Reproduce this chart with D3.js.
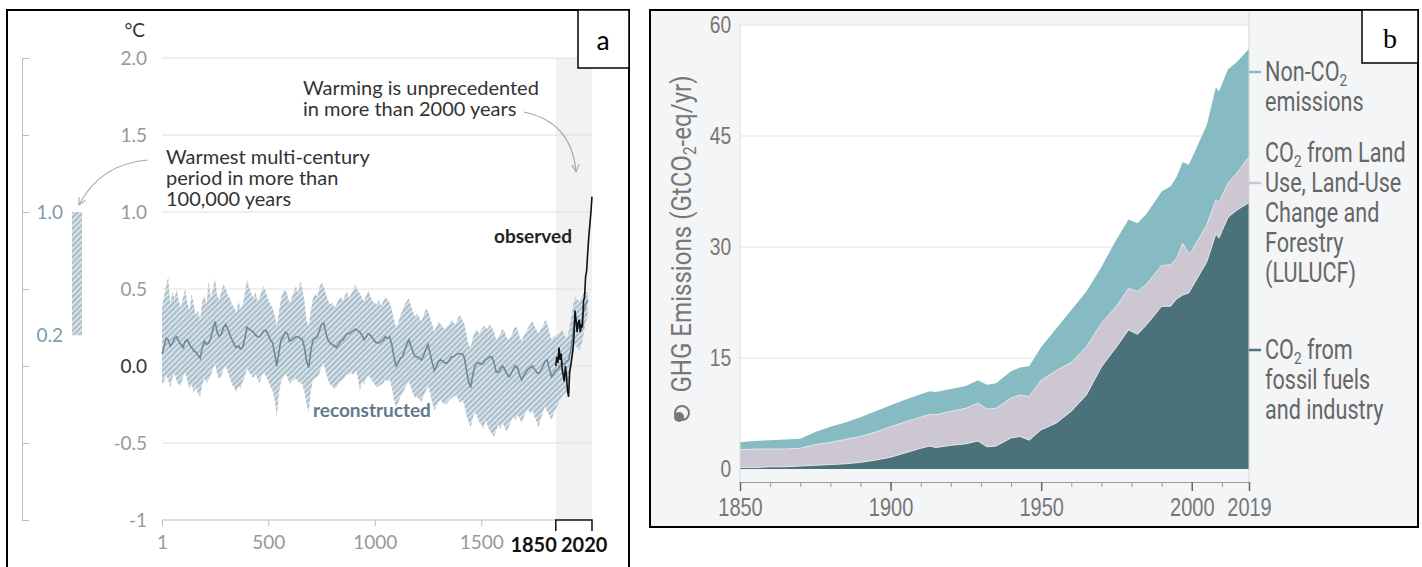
<!DOCTYPE html>
<html>
<head>
<meta charset="utf-8">
<script src="https://cdn.jsdelivr.net/npm/d3@7"></script>
<style>
  body { margin: 0; background: #fff; }
</style>
</head>
<body>
<div id="chart"></div>
<script>
// ---- panel a: global surface temperature (reconstructed + observed) ----
var recYears = d3.range(0, 2010, 10).map(d => Math.max(d, 1));
var recMean = [0.08,0.12,0.18,0.17,0.13,0.15,0.18,0.19,0.16,0.14,
  0.12,0.16,0.17,0.14,0.12,0.10,0.09,0.07,0.05,0.12,
  0.16,0.14,0.15,0.18,0.24,0.29,0.22,0.19,0.21,0.25,
  0.27,0.24,0.20,0.17,0.14,0.12,0.13,0.11,0.12,0.18,
  0.25,0.24,0.23,0.22,0.20,0.19,0.19,0.21,0.23,0.23,
  0.20,0.17,0.15,0.08,0.00,0.09,0.17,0.19,0.22,0.21,
  0.16,0.17,0.18,0.19,0.19,0.18,0.17,0.12,0.03,-0.01,
  0.10,0.17,0.18,0.19,0.23,0.27,0.28,0.22,0.17,0.15,
  0.14,0.13,0.12,0.14,0.16,0.17,0.19,0.21,0.21,0.22,
  0.23,0.24,0.23,0.22,0.20,0.17,0.19,0.21,0.20,0.18,
  0.16,0.15,0.15,0.16,0.17,0.19,0.18,0.19,0.14,0.06,
  0.00,0.02,0.05,0.06,0.10,0.14,0.17,0.13,0.09,0.06,
  0.06,0.05,0.04,0.07,0.11,0.14,0.08,0.02,-0.03,0.00,
  0.03,0.04,0.03,0.02,0.02,0.04,0.06,0.06,0.07,0.08,
  0.08,0.08,0.06,-0.02,-0.10,-0.14,-0.06,0.00,0.02,0.02,
  0.01,0.02,0.04,0.05,0.06,0.06,0.02,-0.04,-0.04,-0.02,
  0.00,-0.02,-0.05,-0.07,-0.05,-0.02,0.00,-0.01,-0.06,-0.09,
  -0.06,-0.04,-0.02,-0.01,0.00,-0.02,-0.04,-0.05,-0.03,0.00,
  0.03,0.04,-0.02,-0.07,-0.05,-0.03,-0.02,0.00,0.02,0.01,
  0.03,0.04,0.10,0.20,0.30,0.27,0.25,0.28,0.35,0.40,
  0.43];
var recHigh = [0.38,0.45,0.52,0.58,0.40,0.48,0.44,0.50,0.42,0.38,
  0.45,0.50,0.41,0.36,0.47,0.40,0.33,0.36,0.30,0.42,
  0.46,0.40,0.55,0.44,0.50,0.57,0.46,0.43,0.49,0.53,
  0.50,0.46,0.44,0.40,0.38,0.35,0.42,0.37,0.40,0.47,
  0.56,0.51,0.47,0.44,0.48,0.42,0.45,0.49,0.52,0.47,
  0.43,0.40,0.38,0.33,0.26,0.35,0.44,0.48,0.50,0.46,
  0.41,0.44,0.48,0.52,0.47,0.55,0.50,0.42,0.30,0.26,
  0.36,0.44,0.47,0.45,0.51,0.54,0.52,0.47,0.43,0.40,
  0.41,0.38,0.40,0.43,0.45,0.42,0.46,0.48,0.44,0.47,
  0.50,0.53,0.49,0.47,0.44,0.42,0.46,0.49,0.45,0.42,
  0.41,0.40,0.43,0.39,0.42,0.45,0.43,0.41,0.37,0.30,
  0.25,0.28,0.33,0.36,0.40,0.42,0.44,0.39,0.35,0.32,
  0.34,0.31,0.29,0.33,0.37,0.36,0.31,0.27,0.22,0.26,
  0.29,0.27,0.25,0.24,0.26,0.27,0.30,0.28,0.27,0.31,
  0.33,0.30,0.28,0.21,0.14,0.12,0.18,0.22,0.24,0.21,
  0.23,0.26,0.25,0.24,0.27,0.25,0.22,0.17,0.19,0.21,
  0.24,0.22,0.18,0.17,0.19,0.23,0.26,0.24,0.19,0.16,
  0.20,0.22,0.25,0.27,0.29,0.26,0.23,0.21,0.24,0.26,
  0.30,0.28,0.22,0.17,0.19,0.20,0.21,0.22,0.24,0.20,
  0.18,0.22,0.30,0.38,0.45,0.43,0.42,0.44,0.47,0.48,
  0.48];
var recLow = [-0.12,-0.10,-0.06,-0.09,-0.14,-0.08,-0.05,-0.10,-0.12,-0.13,
  -0.07,-0.04,-0.10,-0.15,-0.12,-0.17,-0.14,-0.18,-0.20,-0.12,
  -0.08,-0.11,-0.09,-0.06,-0.02,0.02,-0.05,-0.09,-0.06,-0.02,
  0.00,-0.04,-0.08,-0.12,-0.14,-0.17,-0.13,-0.15,-0.10,-0.07,
  -0.02,-0.04,-0.06,-0.08,-0.05,-0.09,-0.11,-0.06,-0.04,-0.07,
  -0.10,-0.13,-0.16,-0.22,-0.33,-0.18,-0.10,-0.08,-0.05,-0.07,
  -0.12,-0.10,-0.09,-0.08,-0.10,-0.11,-0.12,-0.17,-0.25,-0.30,
  -0.16,-0.09,-0.08,-0.07,-0.05,0.00,0.02,-0.04,-0.09,-0.12,
  -0.13,-0.15,-0.14,-0.11,-0.10,-0.09,-0.07,-0.05,-0.06,-0.04,
  -0.06,-0.03,-0.07,-0.16,-0.10,-0.12,-0.08,-0.06,-0.08,-0.10,
  -0.12,-0.14,-0.13,-0.12,-0.11,-0.09,-0.10,-0.09,-0.14,-0.22,
  -0.27,-0.24,-0.20,-0.18,-0.15,-0.12,-0.10,-0.14,-0.18,-0.21,
  -0.20,-0.22,-0.23,-0.19,-0.16,-0.13,-0.18,-0.24,-0.29,-0.26,
  -0.23,-0.22,-0.24,-0.25,-0.24,-0.22,-0.21,-0.20,-0.19,-0.21,
  -0.24,-0.22,-0.25,-0.32,-0.36,-0.40,-0.34,-0.30,-0.33,-0.36,
  -0.38,-0.41,-0.35,-0.39,-0.42,-0.44,-0.46,-0.42,-0.38,-0.41,
  -0.37,-0.40,-0.43,-0.39,-0.36,-0.33,-0.35,-0.32,-0.34,-0.37,
  -0.33,-0.30,-0.28,-0.31,-0.29,-0.33,-0.36,-0.40,-0.34,-0.30,
  -0.26,-0.30,-0.32,-0.35,-0.31,-0.28,-0.25,-0.22,-0.20,-0.18,
  -0.17,-0.12,-0.02,0.08,0.14,0.12,0.10,0.13,0.20,0.28,
  0.32];
var obsYears = d3.range(1850, 2021, 5);
var obsTemp = [0.00,0.06,0.02,0.12,0.04,0.08,-0.02,-0.06,-0.10,0.00,
  -0.06,-0.16,-0.20,-0.04,0.00,0.05,0.10,0.18,0.36,0.30,
  0.22,0.28,0.30,0.22,0.27,0.25,0.42,0.45,0.58,0.62,
  0.74,0.84,0.92,1.00,1.10];
var aTempTicks = [-1, -0.5, 0, 0.5, 1, 1.5, 2];
var aYearTicks = [1, 500, 1000, 1500];
var aYearBold = [1850, 2020];
var warmestRange = [0.2, 1.0];

// ---- panel b: GHG emissions 1850-2019 ----
var bYears = [1850,1855,1860,1865,1870,1875,1880,1885,1890,1895,1900,1905,1910,1913,1915,1920,1925,1929,1932,1935,
  1940,1943,1946,1950,1955,1960,1965,1970,1975,1979,1982,1985,1990,1993,1995,1997,1999,2000,2005,2008,
  2009,2012,2015,2019];
var fossil = [0.2,0.2,0.3,0.3,0.4,0.5,0.6,0.7,0.9,1.2,1.6,2.2,2.8,3.1,2.9,3.2,3.4,3.8,3.0,3.1,
  4.2,4.4,3.9,5.3,6.2,7.8,10.0,13.8,16.5,18.8,18.2,19.5,22.0,22.0,23.0,23.5,23.8,24.5,28.0,31.8,
  31.2,34.0,35.0,36.0];
var lulucf = [2.4,2.5,2.4,2.4,2.4,2.8,3.0,3.3,3.5,3.8,4.1,4.2,4.2,4.3,4.4,4.6,4.8,5.1,5.1,5.1,
  5.4,5.6,5.9,6.7,7.1,6.6,6.5,5.9,5.5,5.6,5.8,5.5,5.5,5.6,5.5,7.0,5.3,5.0,5.0,4.6,
  4.8,4.6,5.0,6.2];
var nonCO2 = [1.0,1.1,1.2,1.3,1.3,1.7,2.1,2.3,2.6,2.8,2.9,3.0,3.1,3.1,3.1,3.0,3.0,3.1,3.3,3.4,
  3.6,3.7,4.1,4.5,5.7,7.1,7.5,7.6,9.0,9.3,9.2,9.5,10.0,10.6,11.0,11.0,12.0,12.5,13.5,15.2,
  15.0,15.4,15.0,14.6];
var bKeys = ["fossil", "lulucf", "nonco2"];
var bColors = ["#4b717a", "#cdc6d3", "#86bbc3"];
var bValueTicks = [0, 15, 30, 45, 60];
var bMajorYears = [1850, 1900, 1950, 2000, 2019];
var bMinorYears = d3.range(1850, 2020, 10);
var bLegend = [
  {key: "nonco2", lines: [["Non-CO", "2", ""], ["emissions"]], anchor: 0},
  {key: "lulucf", lines: [["CO", "2", " from Land"], ["Use, Land-Use"], ["Change and"], ["Forestry"], ["(LULUCF)"]], anchor: 1},
  {key: "fossil", lines: [["CO", "2", " from"], ["fossil fuels"], ["and industry"]], anchor: 0}
];

var svg = d3.select("#chart").append("svg")
  .attr("width", 1422)
  .attr("height", 567);

var defs = svg.append("defs");
var hatch = defs.append("pattern")
  .attr("id", "hatch")
  .attr("patternUnits", "userSpaceOnUse")
  .attr("width", 4).attr("height", 4)
  .attr("patternTransform", "rotate(45)");
hatch.append("rect").attr("width", 4).attr("height", 4).attr("fill", "#d8e2e9");
hatch.append("line").attr("x1", 1).attr("y1", 0).attr("x2", 1).attr("y2", 4)
  .attr("stroke", "#9db3c2").attr("stroke-width", 1.6);

defs.append("marker")
  .attr("id", "arrowGray")
  .attr("viewBox", "0 0 10 10")
  .attr("refX", 9).attr("refY", 5)
  .attr("markerWidth", 9).attr("markerHeight", 9)
  .attr("markerUnits", "userSpaceOnUse")
  .attr("orient", "auto")
  .append("path")
  .attr("d", "M1,1 L9,5 L1,9")
  .attr("fill", "none")
  .attr("stroke", "#aaa")
  .attr("stroke-width", 1.2);

var fmtTemp = d => d === -1 ? "-1" : d3.format(".1f")(d).replace("−", "-");

// ================= PANEL A =================
var xA = d3.scaleLinear().domain([1, 2020]).range([162, 592]);
var yA = d3.scaleLinear().domain([-1, 2]).range([520, 58]);
var gA = svg.append("g").attr("font-family", "Lato, 'Open Sans', sans-serif");

// shaded instrumental period
gA.append("rect")
  .attr("x", xA(1850)).attr("y", yA(2))
  .attr("width", xA(2020) - xA(1850))
  .attr("height", yA(-1) - yA(2))
  .attr("fill", "#f2f2f2");

// gridlines
gA.selectAll(".gridA")
  .data(aTempTicks.filter(d => d > -1))
  .join("line")
  .attr("x1", xA(1)).attr("x2", xA(2020))
  .attr("y1", d => yA(d)).attr("y2", d => yA(d))
  .attr("stroke", "#e0e0e0").attr("stroke-width", 1);

// y labels
gA.selectAll(".ylabA")
  .data(aTempTicks)
  .join("text")
  .attr("x", 147)
  .attr("y", d => yA(d))
  .attr("dy", "0.35em")
  .attr("text-anchor", "end")
  .attr("font-size", 19)
  .attr("fill", d => d === 0 ? "#333" : "#999")
  .text(fmtTemp);

gA.append("text")
  .attr("x", 145).attr("y", 30).attr("dy", "0.35em")
  .attr("text-anchor", "end")
  .attr("font-size", 19).attr("fill", "#333")
  .text("°C");

// left reference scale with the warmest period bar
var leftAxis = gA.append("g")
  .attr("transform", "translate(22,0)")
  .call(d3.axisRight(yA).tickValues(aTempTicks).tickSize(7).tickSizeOuter(0).tickFormat(""));
leftAxis.select(".domain").attr("stroke", "#bbb");
leftAxis.selectAll(".tick line").attr("stroke", "#bbb");

gA.append("rect")
  .attr("x", 72).attr("width", 10)
  .attr("y", yA(warmestRange[1]))
  .attr("height", yA(warmestRange[0]) - yA(warmestRange[1]))
  .attr("fill", "url(#hatch)");

gA.selectAll(".rangeLab")
  .data(warmestRange)
  .join("text")
  .attr("x", 63).attr("y", d => yA(d)).attr("dy", "0.35em")
  .attr("text-anchor", "end")
  .attr("font-size", 19).attr("fill", "#7f9aab")
  .text(fmtTemp);

// x axis
var xAxisA = gA.append("g")
  .attr("transform", `translate(0,${yA(-1)})`)
  .call(d3.axisBottom(xA).tickValues(aYearTicks).tickSize(6).tickSizeOuter(0).tickPadding(10).tickFormat(d3.format("d")));
xAxisA.select(".domain").attr("stroke", "#bbb").attr("d", `M${xA(1)},0H${xA(1850)}`);
xAxisA.selectAll(".tick line").attr("stroke", "#bbb");
xAxisA.selectAll(".tick text").attr("font-size", 19).attr("fill", "#999").attr("font-family", "Lato, sans-serif");

// bracket for 1850-2020
gA.append("path")
  .attr("d", `M${xA(1850)},${yA(-1) + 11}V${yA(-1)}H${xA(2020)}V${yA(-1) + 11}`)
  .attr("fill", "none").attr("stroke", "#111").attr("stroke-width", 1.5);
gA.selectAll(".boldYear")
  .data(aYearBold)
  .join("text")
  .attr("x", (d, i) => i === 0 ? xA(d) + 1 : xA(d) - 31)
  .attr("y", yA(-1) + 25).attr("dy", "0.35em")
  .attr("font-size", 20).attr("font-weight", "bold").attr("fill", "#111")
  .attr("text-anchor", (d, i) => i === 0 ? "end" : "start")
  .text(d => d);

// reconstructed band + mean
var idx = d3.range(recYears.length);
gA.append("path")
  .datum(idx)
  .attr("fill", "url(#hatch)")
  .attr("d", d3.area()
    .x(i => xA(recYears[i]))
    .y0(i => yA(recLow[i]))
    .y1(i => yA(recHigh[i])));

gA.append("path")
  .datum(idx)
  .attr("fill", "none")
  .attr("stroke", "#6d8897")
  .attr("stroke-width", 1.6)
  .attr("d", d3.line()
    .x(i => xA(recYears[i]))
    .y(i => yA(recMean[i])));

// observed
gA.append("path")
  .datum(d3.range(obsYears.length))
  .attr("fill", "none")
  .attr("stroke", "#111")
  .attr("stroke-width", 1.6)
  .attr("d", d3.line()
    .x(i => xA(obsYears[i]))
    .y(i => yA(obsTemp[i])));

gA.append("text")
  .attr("x", 572).attr("y", 236).attr("dy", "0.35em")
  .attr("text-anchor", "end")
  .attr("font-size", 19).attr("font-weight", "bold").attr("fill", "#222")
  .text("observed");

gA.append("text")
  .attr("x", 313).attr("y", 410).attr("dy", "0.35em")
  .attr("font-size", 19).attr("font-weight", "bold").attr("fill", "#5f7a88")
  .text("reconstructed");

// annotations
var noteWarmest = ["Warmest multi-century", "period in more than", "100,000 years"];
gA.selectAll(".noteW")
  .data(noteWarmest)
  .join("text")
  .attr("x", 166).attr("y", (d, i) => 157 + i * 21).attr("dy", "0.35em")
  .attr("font-size", 20).attr("fill", "#333")
  .text(d => d);

var noteUnprec = ["Warming is unprecedented", "in more than 2000 years"];
gA.selectAll(".noteU")
  .data(noteUnprec)
  .join("text")
  .attr("x", 303).attr("y", (d, i) => 88 + i * 21).attr("dy", "0.35em")
  .attr("font-size", 20).attr("fill", "#333")
  .text(d => d);

gA.append("path")
  .attr("d", "M148,160 Q100,164 79,205")
  .attr("fill", "none").attr("stroke", "#aaa").attr("stroke-width", 1.2)
  .attr("marker-end", "url(#arrowGray)");
gA.append("path")
  .attr("d", "M524,112 Q572,122 576,172")
  .attr("fill", "none").attr("stroke", "#aaa").attr("stroke-width", 1.2)
  .attr("marker-end", "url(#arrowGray)");

// frame + label
gA.append("rect")
  .attr("x", 7).attr("y", 10).attr("width", 622).attr("height", 580)
  .attr("fill", "none").attr("stroke", "#000").attr("stroke-width", 2);
gA.append("rect")
  .attr("x", 578).attr("y", 10).attr("width", 51).attr("height", 58)
  .attr("fill", "#fff").attr("stroke", "#000").attr("stroke-width", 1.5);
gA.append("text")
  .attr("x", 603).attr("y", 40).attr("dy", "0.35em")
  .attr("text-anchor", "middle")
  .attr("font-family", "Carlito, 'Liberation Sans', sans-serif")
  .attr("font-size", 28).attr("fill", "#000")
  .text("a");

// ================= PANEL B =================
// the original uses a condensed face; squeeze Roboto horizontally instead
var squeeze = "scale(0.8,1)";
var xB = d3.scaleLinear().domain([1850, 2019]).range([740, 1249]);
var yB = d3.scaleLinear().domain([0, 60]).range([469, 25]);
var gB = svg.append("g").attr("font-family", "Roboto, 'Open Sans', sans-serif");

gB.append("rect")
  .attr("x", 650).attr("y", 10).attr("width", 768).attr("height", 517)
  .attr("fill", "#f4f5f7");
gB.append("rect")
  .attr("x", xB(1850)).attr("y", yB(60))
  .attr("width", xB(2019) - xB(1850)).attr("height", yB(0) - yB(60))
  .attr("fill", "#fff");

gB.selectAll(".gridB")
  .data(bValueTicks.filter(d => d > 0))
  .join("line")
  .attr("x1", xB(1850)).attr("x2", xB(2019))
  .attr("y1", d => yB(d)).attr("y2", d => yB(d))
  .attr("stroke", "#ececec").attr("stroke-width", 1.5);

// stacked areas
var rows = bYears.map((y, i) => ({year: y, fossil: fossil[i], lulucf: lulucf[i], nonco2: nonCO2[i]}));
var stacked = d3.stack().keys(bKeys)(rows);

gB.selectAll(".layer")
  .data(stacked)
  .join("path")
  .attr("fill", (d, i) => bColors[i])
  .attr("d", d3.area()
    .x(d => xB(d.data.year))
    .y0(d => yB(d[0]))
    .y1(d => yB(d[1])));

gB.selectAll(".layerEdge")
  .data(stacked.slice(0, 2))
  .join("path")
  .attr("fill", "none")
  .attr("stroke", "#e6e3ea").attr("stroke-width", 1)
  .attr("d", d3.line()
    .x(d => xB(d.data.year))
    .y(d => yB(d[1])));

// plot borders
gB.append("line")
  .attr("x1", xB(1850)).attr("x2", xB(1850))
  .attr("y1", yB(60)).attr("y2", 482)
  .attr("stroke", "#dcdcdc");
gB.append("line")
  .attr("x1", xB(2019)).attr("x2", xB(2019))
  .attr("y1", 10).attr("y2", 482)
  .attr("stroke", "#d6d6d6");

// y labels
var yAxisB = gB.append("g")
  .attr("transform", `translate(${xB(1850)},0)`)
  .call(d3.axisLeft(yB).tickValues(bValueTicks).tickSize(0).tickPadding(11));
yAxisB.select(".domain").remove();
yAxisB.selectAll("text")
  .attr("font-size", 24).attr("fill", "#777").attr("font-family", null)
  .attr("transform", squeeze);

// x axis
var minorB = gB.append("g")
  .attr("transform", "translate(0,482)")
  .call(d3.axisBottom(xB).tickValues(bMinorYears).tickSize(5).tickSizeOuter(0).tickFormat(""));
minorB.select(".domain").attr("stroke", "#9a9a9a");
minorB.selectAll(".tick line").attr("stroke", "#9a9a9a");

var majorB = gB.append("g")
  .attr("transform", "translate(0,482)")
  .call(d3.axisBottom(xB).tickValues(bMajorYears).tickSize(9).tickPadding(7).tickFormat(d3.format("d")));
majorB.select(".domain").remove();
majorB.selectAll(".tick line").attr("stroke", "#666").attr("stroke-width", 1.5);
majorB.selectAll("text")
  .attr("font-size", 25).attr("fill", "#777").attr("font-family", null)
  .attr("transform", squeeze);

// y title
var yTitle = gB.append("text")
  .attr("transform", `translate(691,${234}) rotate(-90) scale(0.86,1)`)
  .attr("text-anchor", "middle")
  .attr("font-size", 28).attr("fill", "#777");
yTitle.append("tspan").text("GHG Emissions (GtCO");
yTitle.append("tspan").attr("font-size", 18).attr("dy", 5).text("2");
yTitle.append("tspan").attr("dy", -5).text("-eq/yr)");

// small icon below title
gB.append("circle").attr("cx", 682).attr("cy", 413).attr("r", 7)
  .attr("fill", "none").attr("stroke", "#777").attr("stroke-width", 2);
gB.append("circle").attr("cx", 679).attr("cy", 417).attr("r", 5).attr("fill", "#777");

// legend
var legendTickY = [72, 183, 350];
bLegend.forEach(function(item, k) {
  var color = bColors[bKeys.indexOf(item.key)];
  gB.append("line")
    .attr("x1", xB(2019)).attr("x2", xB(2019) + 12)
    .attr("y1", legendTickY[k]).attr("y2", legendTickY[k])
    .attr("stroke", color).attr("stroke-width", 2.5);
  item.lines.forEach(function(parts, j) {
    var t = gB.append("text")
      .attr("transform", `translate(1265,${legendTickY[k] + (j - item.anchor) * 30}) ${squeeze}`)
      .attr("dy", "0.35em")
      .attr("font-size", 27).attr("fill", "#666");
    t.append("tspan").text(parts[0]);
    if (parts.length > 1) {
      t.append("tspan").attr("font-size", 17).attr("dy", 5).text(parts[1]);
      t.append("tspan").attr("dy", -5).text(parts[2]);
    }
  });
});

// frame + label
gB.append("rect")
  .attr("x", 650).attr("y", 10).attr("width", 768).attr("height", 517)
  .attr("fill", "none").attr("stroke", "#000").attr("stroke-width", 2);
gB.append("rect")
  .attr("x", 1362).attr("y", 10).attr("width", 56).attr("height", 53)
  .attr("fill", "#fff").attr("stroke", "#000").attr("stroke-width", 1.5);
gB.append("text")
  .attr("x", 1390).attr("y", 38).attr("dy", "0.35em")
  .attr("text-anchor", "middle")
  .attr("font-family", "'Liberation Serif', serif")
  .attr("font-size", 28).attr("fill", "#000")
  .text("b");
</script>
</body>
</html>
